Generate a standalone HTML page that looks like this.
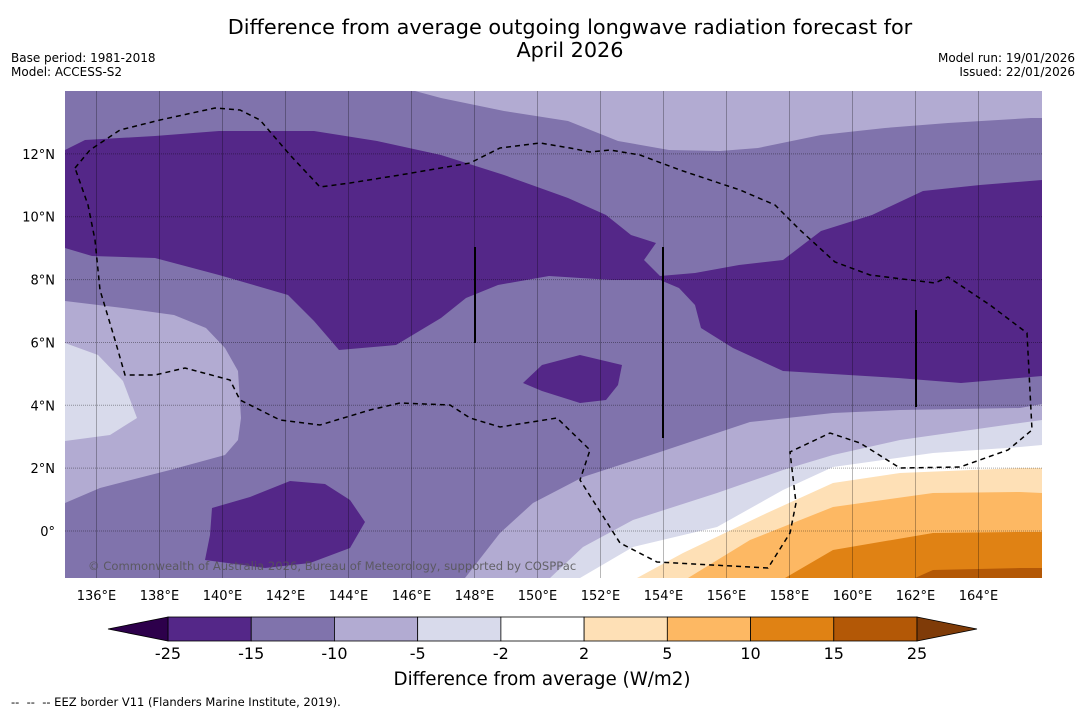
<!DOCTYPE html>
<html><head><meta charset="utf-8"><style>
body{margin:0;background:#fff;width:1085px;height:713px;overflow:hidden;font-family:"DejaVu Sans","Liberation Sans",sans-serif}
svg{position:absolute;left:0;top:0;font-family:"DejaVu Sans","Liberation Sans",sans-serif}
</style></head><body>
<svg id="c" width="1085" height="713" xmlns="http://www.w3.org/2000/svg">
<text x="570" y="34" font-size="20.8" text-anchor="middle">Difference from average outgoing longwave radiation forecast for</text>
<text x="570" y="57" font-size="20.8" text-anchor="middle">April 2026</text>
<text x="11" y="62" font-size="12">Base period: 1981-2018</text>
<text x="11" y="76" font-size="12">Model: ACCESS-S2</text>
<text x="1075" y="62" font-size="12" text-anchor="end">Model run: 19/01/2026</text>
<text x="1075" y="76" font-size="12" text-anchor="end">Issued: 22/01/2026</text>
<defs><clipPath id="mc"><rect x="65" y="91" width="977" height="487"/></clipPath></defs>
<g id="map" clip-path="url(#mc)"></g>
<g id="axes"></g>
<g id="cbar"></g>
<text x="542" y="685" font-size="18.3" text-anchor="middle">Difference from average (W/m2)</text>
<text x="11" y="706" font-size="11.5">-- &#160;-- &#160;-- EEZ border V11 (Flanders Marine Institute, 2019).</text>
</svg>
<script>
const lonTicks=[136,138,140,142,144,146,148,150,152,154,156,158,160,162,164];
const latTicks=[12,10,8,6,4,2,0];
const levels=[-25,-15,-10,-5,-2,2,5,10,15,25];
const binColors=['#542788','#8073ac','#b2abd2','#d8daeb','#ffffff','#fee0b6','#fdb863','#e08214','#b35806'];
const extendColors=['#2d004b','#7f3b08'];
const NS='http://www.w3.org/2000/svg';
const X=lon=>65+(lon-135)*31.5;
const Y=lat=>91+(14-lat)*31.43;
function mk(t,a,p){const e=document.createElementNS(NS,t);for(const k in a)e.setAttribute(k,a[k]);p.appendChild(e);return e;}
const map=document.getElementById('map');
const shapes=[
['#8073ac','background-moderate-negative',[[65,91],[1042,91],[1042,578],[65,578]]],
['#b2abd2','north-east-weak-negative',[[415,91],[441,98],[504,111],[568,121],[618,141],[669,150],[720,151],[758,148],[821,135],[885,128],[948,123],[1031,118],[1042,118],[1042,91]]],
['#b2abd2','west-weak-negative',[[65,301],[123,308],[174,315],[206,328],[225,348],[238,371],[241,418],[238,440],[225,455],[170,470],[100,488],[65,503]]],
['#d8daeb','west-slight-negative',[[65,343],[98,355],[123,381],[137,418],[110,435],[65,441]]],
['#542788','strong-negative-band',[[65,150],[85,140],[155,136],[219,131],[314,131],[377,141],[441,155],[504,175],[568,198],[606,215],[631,235],[656,243],[644,260],[660,276],[695,273],[739,265],[783,260],[821,231],[872,215],[923,191],[980,185],[1042,180],[1042,376],[961,383],[898,378],[783,371],[733,348],[701,328],[695,305],[679,288],[660,280],[612,280],[549,276],[498,285],[466,298],[441,318],[396,345],[339,350],[314,321],[288,295],[219,275],[155,258],[92,256],[65,248]]],
['#542788','central-strong-negative-blob',[[523,383],[542,365],[580,355],[622,365],[618,385],[606,400],[580,403],[542,391]]],
['#542788','southwest-strong-negative-blob',[[212,508],[250,497],[290,481],[325,484],[350,500],[365,522],[350,548],[310,563],[265,568],[205,560],[210,535]]],
['#b2abd2','south-weak-negative',[[465,578],[500,533],[533,503],[583,477],[657,453],[750,422],[833,413],[900,410],[1020,408],[1042,404],[1042,578]]],
['#d8daeb','south-slight-negative',[[550,578],[583,547],[633,520],[717,493],[783,470],[833,455],[900,440],[1020,423],[1042,420],[1042,578]]],
['#ffffff','near-normal',[[580,578],[633,547],[717,527],[783,490],[833,467],[933,453],[1020,447],[1042,445],[1042,578]]],
['#fee0b6','slight-positive',[[637,578],[683,553],[767,513],[833,483],[900,473],[1020,468],[1042,468],[1042,578]]],
['#fdb863','weak-positive',[[688,578],[750,540],[833,507],[933,493],[1020,492],[1042,493],[1042,578]]],
['#e08214','moderate-positive',[[785,578],[833,550],[933,533],[1020,532],[1042,532],[1042,578]]],
['#b35806','strong-positive',[[915,578],[933,570],[1020,568],[1042,568],[1042,578]]]
];
shapes.forEach(s=>{const e=mk('polygon',{points:s[2].map(p=>p.join(',')).join(' '),fill:s[0]},map);

});
lonTicks.forEach(l=>{const e=mk('line',{x1:X(l),x2:X(l),y1:91,y2:578,stroke:'rgba(0,0,0,0.28)','stroke-width':1},map);

});
latTicks.forEach(l=>{const e=mk('line',{x1:65,x2:1042,y1:Y(l),y2:Y(l),stroke:'rgba(0,0,0,0.35)','stroke-width':1,'stroke-dasharray':'1,1'},map);

});
const eez=[[75,168],[90,150],[120,130],[160,120],[215,108],[240,110],[260,120],[290,155],[320,187],[350,183],[400,175],[470,163],[500,148],[540,143],[570,148],[590,152],[610,150],[640,155],[680,170],[740,190],[775,205],[800,230],[835,262],[870,275],[935,283],[948,277],[990,305],[1027,333],[1032,430],[1008,450],[960,467],[900,468],[860,443],[830,433],[790,452],[796,503],[790,533],[768,568],[657,562],[620,543],[580,480],[590,450],[557,418],[500,427],[470,418],[450,405],[400,403],[370,410],[320,425],[280,420],[240,400],[230,380],[185,368],[155,375],[125,375],[115,340],[100,290],[95,240],[88,205],[75,168]];
const ez=mk('polyline',{points:eez.map(p=>p.join(',')).join(' '),fill:'none',stroke:'#000','stroke-width':1.5,'stroke-dasharray':'5,4'},map);


[[475,247,343],[663,247,438],[916,310,407]].forEach(v=>{const e=mk('line',{x1:v[0],x2:v[0],y1:v[1],y2:v[2],stroke:'#000','stroke-width':2},map);

});
const cp=mk('text',{x:88,y:570,'font-size':11.6,fill:'#555','fill-opacity':0.85},map);cp.textContent='© Commonwealth of Australia 2026, Bureau of Meteorology, supported by COSPPac';


const ax=document.getElementById('axes');
lonTicks.forEach(l=>{const t=mk('text',{x:X(l),y:600,'font-size':13,'text-anchor':'middle'},ax);t.textContent=l+'°E';

});
latTicks.forEach(l=>{const t=mk('text',{x:55,y:Y(l)+5,'font-size':13,'text-anchor':'end'},ax);t.textContent=l===0?'0°':l+'°N';

});
const cb=document.getElementById('cbar');
const cx0=168,cw=(917-168)/binColors.length,cy=617,ch=24;
binColors.forEach((c,i)=>{const r=mk('rect',{x:cx0+i*cw,y:cy,width:cw,height:ch,fill:c,stroke:'#000','stroke-width':0.8},cb);

});
const t1=mk('polygon',{points:`${cx0},${cy} 108,${cy+ch/2} ${cx0},${cy+ch}`,fill:extendColors[0],stroke:'#000','stroke-width':0.8},cb);


const xe=cx0+cw*binColors.length;
const t2=mk('polygon',{points:`${xe},${cy} ${xe+60},${cy+ch/2} ${xe},${cy+ch}`,fill:extendColors[1],stroke:'#000','stroke-width':0.8},cb);


levels.forEach((v,i)=>{const t=mk('text',{x:cx0+i*cw,y:659,'font-size':16,'text-anchor':'middle'},cb);t.textContent=v;

});
</script>
</body></html>
